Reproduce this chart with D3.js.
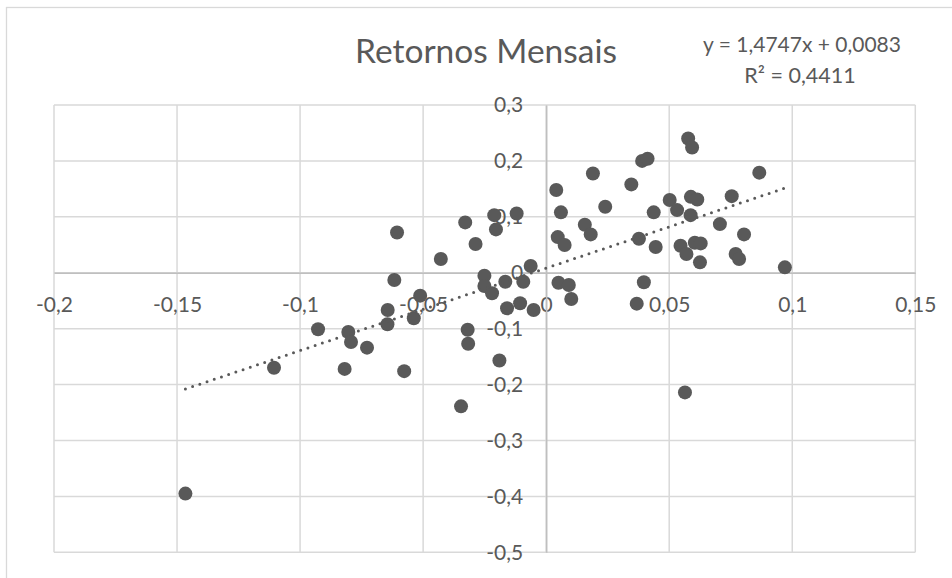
<!DOCTYPE html>
<html>
<head>
<meta charset="utf-8">
<script src="https://cdn.jsdelivr.net/npm/d3@7"></script>
<style>
  html, body { margin: 0; padding: 0; background: #ffffff; }
  svg { display: block; font-family: Lato, "Open Sans", sans-serif; }
</style>
</head>
<body>
<svg id="chart" width="952" height="578"></svg>
<script>
// ---- data ----
const title = "Retornos Mensais";
const equationText = "y = 1,4747x + 0,0083";
const r2Text = "R² = 0,4411";
const slope = 1.4747;
const intercept = 0.0083;

const xValues = [
  -0.1466, -0.1106, -0.0927, -0.0819, -0.0804, -0.0793, -0.0728, -0.0645, -0.0644, -0.0617,
  -0.0606, -0.0577, -0.0538, -0.0512, -0.0428, -0.0346, -0.0329, -0.0319, -0.0317, -0.0287,
  -0.0251, -0.0251, -0.0220, -0.0211, -0.0204, -0.0190, -0.0166, -0.0159, -0.0120, -0.0106,
  -0.0093, -0.0063, -0.0051, 0.0041, 0.0047, 0.0050, 0.0060, 0.0075, 0.0092, 0.0102,
  0.0157, 0.0181, 0.0190, 0.0240, 0.0346, 0.0368, 0.0377, 0.0390, 0.0397, 0.0412,
  0.0437, 0.0445, 0.0502, 0.0532, 0.0546, 0.0564, 0.0570, 0.0577, 0.0587, 0.0588,
  0.0593, 0.0604, 0.0614, 0.0625, 0.0628, 0.0706, 0.0754, 0.0770, 0.0784, 0.0804,
  0.0866, 0.0970
];
const yValues = [
  -0.395, -0.170, -0.101, -0.172, -0.106, -0.124, -0.134, -0.092, -0.0666, -0.013,
  0.072, -0.176, -0.0815, -0.041, 0.0245, -0.239, 0.090, -0.102, -0.127, 0.0513,
  -0.0054, -0.0238, -0.0368, 0.103, 0.0775, -0.157, -0.016, -0.0636, 0.106, -0.0547,
  -0.016, 0.012, -0.0666, 0.148, 0.0637, -0.0179, 0.108, 0.0495, -0.022, -0.047,
  0.0857, 0.0686, 0.1775, 0.118, 0.158, -0.0553, 0.0607, 0.200, -0.0171, 0.204,
  0.108, 0.0459, 0.130, 0.112, 0.0482, -0.214, 0.0334, 0.240, 0.103, 0.1357,
  0.224, 0.0536, 0.131, 0.0186, 0.0525, 0.087, 0.137, 0.0334, 0.0245, 0.0686,
  0.179, 0.0096
];

const xTicks = [-0.2, -0.15, -0.1, -0.05, 0, 0.05, 0.1, 0.15];
const xTickLabels = ["-0,2", "-0,15", "-0,1", "-0,05", "0", "0,05", "0,1", "0,15"];
const yTicks = [0.3, 0.2, 0.1, 0, -0.1, -0.2, -0.3, -0.4, -0.5];
const yTickLabels = ["0,3", "0,2", "0,1", "0", "-0,1", "-0,2", "-0,3", "-0,4", "-0,5"];

// ---- layout ----
const plot = { left: 54, right: 915.3, top: 105, bottom: 552.3 };
const textColor = "#595959";
const markColor = "#595959";
const gridColor = "#d9d9d9";
const axisColor = "#bfbfbf";

const svg = d3.select("#chart");

const x = d3.scaleLinear().domain([-0.2, 0.15]).range([plot.left, plot.right]);
const y = d3.scaleLinear().domain([-0.5, 0.3]).range([plot.bottom, plot.top]);

// outer chart border
svg.append("rect")
  .attr("x", 6.5).attr("y", 7.5)
  .attr("width", 1000).attr("height", 700)
  .attr("fill", "none")
  .attr("stroke", gridColor)
  .attr("stroke-width", 1.3);

// gridlines
const grid = svg.append("g");
grid.selectAll("line.v").data(xTicks).join("line")
  .attr("class", "v")
  .attr("x1", d => x(d)).attr("x2", d => x(d))
  .attr("y1", y(0.3)).attr("y2", y(-0.5))
  .attr("stroke", gridColor).attr("stroke-width", 1.5);
grid.selectAll("line.h").data(yTicks).join("line")
  .attr("class", "h")
  .attr("x1", x(-0.2)).attr("x2", x(0.15))
  .attr("y1", d => y(d)).attr("y2", d => y(d))
  .attr("stroke", gridColor).attr("stroke-width", 1.5);

// axes crossing at zero
const xAxis = d3.axisBottom(x)
  .tickValues(xTicks)
  .tickFormat((d, i) => xTickLabels[i])
  .tickSize(0)
  .tickPadding(24);
const gx = svg.append("g")
  .attr("transform", `translate(0,${y(0)})`)
  .call(xAxis);
gx.select(".domain").attr("stroke", axisColor).attr("stroke-width", 1.6);
gx.selectAll("text")
  .attr("fill", textColor)
  .style("font-size", "21px")
  .style("font-family", "Lato, 'Open Sans', sans-serif");

const yAxis = d3.axisLeft(y)
  .tickValues(yTicks)
  .tickFormat((d, i) => yTickLabels[i])
  .tickSize(0)
  .tickPadding(23);
const gy = svg.append("g")
  .attr("transform", `translate(${x(0)},0)`)
  .call(yAxis);
gy.select(".domain").attr("stroke", axisColor).attr("stroke-width", 1.6);
gy.selectAll("text")
  .attr("fill", textColor)
  .style("font-size", "21px")
  .style("font-family", "Lato, 'Open Sans', sans-serif");

// points
const data = xValues.map((v, i) => ({ x: v, y: yValues[i] }));
svg.append("g").selectAll("circle").data(data).join("circle")
  .attr("cx", d => x(d.x))
  .attr("cy", d => y(d.y))
  .attr("r", 7)
  .attr("fill", markColor);

// linear trendline (dotted)
const xMin = d3.min(xValues), xMax = d3.max(xValues);
const trend = [xMin, xMax].map(v => ({ x: v, y: slope * v + intercept }));
svg.append("path")
  .datum(trend)
  .attr("d", d3.line().x(d => x(d.x)).y(d => y(d.y)))
  .attr("fill", "none")
  .attr("stroke", markColor)
  .attr("stroke-width", 3)
  .attr("stroke-linecap", "round")
  .attr("stroke-dasharray", "0 7.6");

// title
svg.append("text")
  .attr("x", 486).attr("y", 63)
  .attr("text-anchor", "middle")
  .attr("fill", textColor)
  .style("font-size", "33.5px")
  .text(title);

// equation + R²
svg.append("text")
  .attr("x", 802).attr("y", 52)
  .attr("text-anchor", "middle")
  .attr("fill", textColor)
  .style("font-size", "21px")
  .text(equationText);
svg.append("text")
  .attr("x", 800).attr("y", 83)
  .attr("text-anchor", "middle")
  .attr("fill", textColor)
  .style("font-size", "21.5px")
  .text(r2Text);
</script>
</body>
</html>
